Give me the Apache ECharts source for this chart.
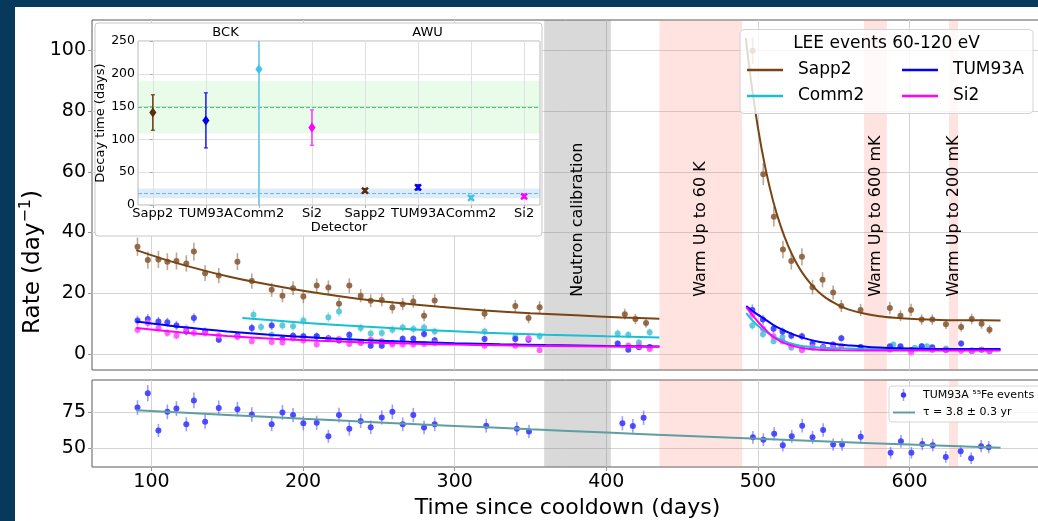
<!DOCTYPE html>
<html>
<head>
<meta charset="utf-8">
<script src="https://cdn.jsdelivr.net/npm/echarts@6/dist/echarts.min.js"></script>
<style>
  html, body { margin: 0; padding: 0; background: #fff; }
  #wrap { position: relative; width: 1038px; height: 521px; background: #fff; overflow: hidden; }
  .edge { position: absolute; background: #07395d; }
  #chart { position: absolute; left: 0; top: 0; width: 1038px; height: 521px; }
</style>
</head>
<body>
<div id="wrap">
  <div class="edge" style="left:0;top:0;width:1038px;height:7px"></div>
  <div class="edge" style="left:0;top:0;width:15px;height:521px"></div>
  <div id="chart"></div>
</div>
<script>
const FONT = 'DejaVu Sans';

// ---- axis ticks ----
const timeTicks = [100, 200, 300, 400, 500, 600];
const rateTicks = [0, 20, 40, 60, 80, 100];
const feTicks = [50, 75];
const detectorPos = [0, 1, 2, 3, 4, 5, 6, 7];
const detectorNames = ['Sapp2', 'TUM93A', 'Comm2', 'Si2', 'Sapp2', 'TUM93A', 'Comm2', 'Si2'];
const phaseNames = ['BCK', 'AWU'];
const phasePos = [1.37, 5.18];

// ---- shaded periods (days since cooldown) ----
const periodStart = [359, 435, 570, 626];
const periodEnd = [403, 489.6, 585, 632];
const periodLabels = ['Neutron calibration', 'Warm Up to 60 K', 'Warm Up to 600 mK', 'Warm Up to 200 mK'];
const periodKinds = ['calib', 'warm', 'warm', 'warm'];
const periodLabelRate = 18.8;

// ---- LEE event rates 60-120 eV: [day, rate, error] ----
const sapp2Pts = [
  [90.8,35.3,3.0],[97.6,30.9,2.8],[104.6,31.1,2.8],[110.5,30.4,2.8],[116.5,30.6,2.8],[123,29.8,2.7],
  [128,33.7,2.9],[135.4,26.6,2.6],[144.4,25.8,2.5],[156.7,30.4,2.8],[166.2,24.0,2.5],[179.3,21.1,2.3],
  [186.4,19.2,2.2],[193.4,21.6,2.3],[200.2,18.9,2.2],[209,22.5,2.4],[216.7,21.9,2.3],[223.7,16.5,2.0],
  [230.5,22.5,2.4],[238,19.2,2.2],[244.6,17.5,2.1],[251.9,17.8,2.1],[258.9,15.3,2.0],[265.7,16.4,2.0],
  [272.7,17.3,2.1],[279.8,12.6,1.8],[286.8,17.6,2.1],[319.7,13.2,1.8],[340,15.8,2.0],[348.7,11.8,1.7],
  [356,15.4,2.0],[412.2,13.1,1.8],[419.2,11.5,1.7],[426.2,10.2,1.6],
  [496.5,99.9,4.4],[503.5,59.2,3.6],[510.5,45.2,3.2],[516.5,34.4,2.9],[522,30.6,2.8],[529,32.0,2.8],
  [536,22.0,2.4],[542.6,24.4,2.5],[549.6,20.2,2.3],[555,15.8,2.0],[567.7,14.5,2.0],[587,15.1,2.0],
  [594,12.6,1.8],[601,14.5,2.0],[608,11.3,1.7],[615,11.3,1.7],[624,9.8,1.6],[634,8.9,1.5],
  [641,11.5,1.7],[647.5,9.9,1.6],[652.7,8.0,1.5]
];
const tumPts = [
  [90.8,11.0,1.6],[97.6,11.5,1.6],[104.6,10.7,1.5],[110.5,10.4,1.5],[116.5,9.4,1.5],[123,7.4,1.3],
  [128,11.8,1.6],[135.4,7.4,1.3],[144.4,4.7,1.1],[156.7,6.0,1.2],[166.2,8.5,1.4],[179.3,9.4,1.5],
  [186.4,4.9,1.1],[193.4,6.0,1.2],[200.2,5.8,1.2],[209,5.8,1.2],[216.7,5.2,1.1],[223.7,4.4,1.0],
  [230.5,6.3,1.2],[238,3.8,1.0],[244.6,2.7,0.9],[251.9,2.7,0.9],[258.9,3.6,1.0],[265.7,5.0,1.1],
  [272.7,5.0,1.1],[279.8,6.6,1.3],[286.8,4.5,1.1],[319.7,4.9,1.1],[340,4.9,1.1],[348.7,4.7,1.1],
  [407.5,3.4,1.0],[414.5,1.4,0.7],[421.5,2.2,0.8],[428.6,2.3,0.8],
  [496.3,14.5,1.8],[503.3,11.3,1.6],[510.3,8.3,1.4],[516.2,7.4,1.3],[522,6.0,1.2],[529,5.8,1.2],
  [536,3.4,1.0],[543,2.3,0.8],[549.6,3.1,0.9],[555,5.2,1.1],[567.7,2.3,0.8],[587,2.5,0.8],
  [594,2.5,0.8],[601,1.3,0.7],[608,2.5,0.8],[615,2.2,0.8],[624,1.3,0.7],[634,3.4,1.0],
  [641,1.0,0.6],[647.5,1.4,0.7],[652.7,0.9,0.6]
];
const commPts = [
  [167.3,12.9,1.7],[172.3,8.9,1.4],[179.3,6.3,1.2],[186.4,9.4,1.5],[193.4,9.1,1.5],[200.2,11.0,1.6],
  [209,5.8,1.2],[216.7,12.1,1.6],[223.7,14.0,1.7],[230.5,4.9,1.1],[238,8.5,1.4],[244.6,6.7,1.3],
  [251.9,6.9,1.3],[258.9,8.0,1.4],[265.7,8.7,1.4],[272.7,8.2,1.4],[279.8,8.7,1.4],[286.8,7.4,1.3],
  [319.7,7.4,1.3],[340,5.6,1.2],[356,5.8,1.2],[407.5,6.7,1.3],[414.5,6.3,1.2],[421.5,3.8,1.0],
  [428.6,7.1,1.3],
  [496.3,9.4,1.5],[503.3,6.5,1.3],[510.3,4.2,1.0],[516.2,5.6,1.2],[522,2.0,0.8],[529,1.5,0.7],
  [536,2.0,0.8],[589.3,3.1,0.9],[594,2.0,0.8],[603.5,2.0,0.8],[608,2.5,0.8],[611.5,2.5,0.8],
  [624,1.8,0.7],[641,1.2,0.6]
];
const siPts = [
  [90.8,8.0,1.4],[97.6,10.2,1.5],[104.6,8.5,1.4],[110.5,6.9,1.3],[116.5,6.0,1.2],[123,8.3,1.4],
  [128,6.9,1.3],[135.4,6.9,1.3],[144.4,6.0,1.2],[156.7,5.6,1.2],[166.2,4.2,1.0],[179.3,3.9,1.0],
  [186.4,3.8,1.0],[193.4,5.2,1.1],[200.2,4.4,1.0],[209,3.1,0.9],[216.7,4.9,1.1],[223.7,4.9,1.1],
  [230.5,3.3,0.9],[238,3.6,1.0],[244.6,4.7,1.1],[251.9,4.2,1.0],[258.9,3.1,0.9],[265.7,3.1,0.9],
  [272.7,3.1,0.9],[279.8,3.3,0.9],[286.8,3.6,1.0],[319.7,2.7,0.8],[340,2.7,0.8],[348.7,5.2,1.1],
  [356,1.2,0.6],[414.5,2.8,0.8],[421.5,2.6,0.8],[428.6,1.6,0.7],
  [496.3,13.0,1.7],[503.3,8.3,1.4],[510.3,5.8,1.2],[516.2,4.2,1.0],[522,2.7,0.8],[529,1.2,0.6],
  [536,2.3,0.8],[543,2.0,0.8],[549.6,2.3,0.8],[555,2.6,0.8],[587,1.4,0.7],[601,0.5,0.5],
  [615,1.3,0.6],[624,1.2,0.6],[634,1.0,0.6],[641,1.0,0.6],[647.5,1.4,0.7],[652.7,1.0,0.6]
];

// ---- fitted decay curves: [day, rate] ----
const sapp2FitBck = [[90,34.2],[110,30.9],[130,28.1],[150,25.6],[170,23.5],[200,20.8],[230,18.6],[260,16.9],[290,15.5],[320,14.3],[350,13.4],[380,12.7],[410,12.0],[435,11.6]];
const sapp2FitAwu = [[492,104],[495,91.6],[500,74.5],[505,61.0],[510,50.4],[515,42.1],[520,35.5],[525,30.3],[530,26.2],[535,23.0],[540,20.4],[545,18.4],[550,16.9],[555,15.6],[560,14.6],[570,13.3],[580,12.4],[590,11.9],[600,11.6],[620,11.2],[640,11.1],[660,11.0]];
const tumFitBck = [[90,10.7],[120,8.85],[150,7.39],[180,6.24],[210,5.32],[240,4.59],[270,4.01],[300,3.55],[330,3.20],[360,2.90],[400,2.61],[435,2.42]];
const tumFitAwu = [[492.3,15.8],[498,13.6],[504,11.6],[510,9.6],[516,8.0],[522,6.7],[528,5.6],[534,4.7],[540,4.0],[550,3.3],[560,2.8],[575,2.2],[600,1.8],[630,1.6],[660,1.6]];
const commFitBck = [[160,11.8],[200,10.3],[240,9.0],[280,7.9],[320,7.0],[360,6.3],[400,5.8],[435,5.4]];
const commFitAwu = [[492.3,13.4],[496,11.2],[500,9.3],[505,7.4],[510,5.8],[515,4.7],[520,3.7],[525,3.0],[530,2.5],[540,2.1],[550,1.9],[570,1.6],[600,1.5],[660,1.4]];
const siFitBck = [[90,8.5],[120,7.04],[150,5.89],[180,5.01],[210,4.33],[240,3.80],[270,3.39],[300,3.07],[330,2.83],[360,2.63],[400,2.44],[435,2.32]];
const siFitAwu = [[492.3,15.4],[496,13.0],[500,10.6],[504,8.5],[508,6.5],[512,5.0],[516,3.9],[520,3.1],[525,2.4],[530,1.9],[540,1.4],[555,1.2],[580,1.1],[660,1.1]];

// ---- TUM93A 55Fe calibration rate: [day, rate, error] ----
const fePts = [
  [90.8,77.9,5],[97.6,87.7,5.5],[104.6,62.3,4.5],[110.5,75,5],[116.5,77.2,5],[123,66.5,4.8],
  [128,82.8,5.3],[135.4,68.3,4.8],[144.4,77.7,5],[156.7,76.8,5],[166.2,73.2,5],[179.3,66.5,4.7],
  [186.4,74.6,5],[193.4,72.8,4.9],[200.2,67.2,4.8],[209,67.6,4.8],[216.7,58.3,4.4],[223.7,72.8,5],
  [230.5,63.4,4.6],[238,68.8,4.8],[244.6,64.5,4.7],[251.9,71.2,4.9],[258.9,75,5],[265.7,66.5,4.7],
  [272.7,72.8,4.9],[279.8,64.3,4.6],[286.8,66.5,4.7],[320.8,65.6,4.7],[341,63.4,4.6],[349,61.6,4.6],
  [410.6,67.2,4.8],[417.5,65.4,4.7],[424.6,71,4.9],[496.7,57.6,4.4],[503.6,56,4.4],[510.7,60,4.5],
  [516.4,52.2,4.2],[522.3,58.3,4.4],[529.2,65.6,4.7],[536,57.6,4.4],[543,62.7,4.6],[549.6,52.7,4.2],
  [555.5,52.7,4.2],[567.8,58,4.4],[587.5,47.1,4.0],[594.3,54.9,4.3],[601.2,47.1,4.0],[608.4,53.1,4.2],
  [615.3,52.2,4.2],[623.9,44.2,3.9],[633.7,48.2,4.0],[640.6,43.3,3.9],[647.2,51.6,4.2],[652.2,50.9,4.2]
];
const feFit = [[90,76.1],[150,72.9],[200,70.3],[250,67.8],[300,65.4],[350,63.1],[400,60.9],[450,58.7],[500,56.6],[550,54.6],[600,52.7],[660,50.5]];

// ---- decay times (days): [detector position, tau, error] ----
const decayBck = [[0,141,27],[1,129,42],[2,207,210],[3,118,27]];
const decayAwu = [[4,22,3],[5,27,4],[6,11,3],[7,13,2.5]];
const bckBand = [109, 189];
const bckMean = 149;
const awuBand = [10.5, 25];
const awuMean = 18;

// ---- styling ----
const COL = {
  sapp2: '#7a4515', sapp2Pt: '#8b5d3b', sapp2Bar: 'rgba(139,93,59,0.55)',
  tum: '#0000ff', tumPt: '#3c3cff', tumBar: 'rgba(60,60,255,0.5)',
  comm: '#17c0d4', commPt: '#52c6d8', commBar: 'rgba(82,198,216,0.55)',
  si: '#ff00ff', siPt: '#ff55ff', siBar: 'rgba(255,85,255,0.5)',
  fe: '#5f9ea0'
};
const detColors = ['#5a2d0c', '#0000ee', '#40c4ec', '#ff00ff'];
const detBarColors = ['#6b3a14', '#1a1aff', '#5bc8ea', '#ff33ff'];
const GRID_LINE = '#d4d4d4';

function errPoints(color, barColor, r) {
  return function (params, api) {
    const x = api.value(0), y = api.value(1), e = api.value(2);
    const c = api.coord([x, y]);
    const hi = api.coord([x, y + e]);
    const lo = api.coord([x, y - e]);
    return {
      type: 'group',
      children: [
        { type: 'line', shape: { x1: c[0], y1: hi[1], x2: c[0], y2: lo[1] }, style: { stroke: barColor, lineWidth: 1.6 } },
        { type: 'circle', shape: { cx: c[0], cy: c[1], r: r }, style: { fill: color, opacity: 0.9 } }
      ]
    };
  };
}

function pointSeries(name, data, color, barColor, g) {
  return {
    type: 'custom', name: name, xAxisIndex: g, yAxisIndex: g, data: data,
    dimensions: ['x', 'y', 'e'], encode: { x: 0, y: 1 },
    renderItem: errPoints(color, barColor, 3), z: 3, silent: true, animation: false
  };
}

function fitSeries(name, data, color, g, width) {
  return {
    type: 'line', name: name, xAxisIndex: g, yAxisIndex: g, data: data,
    showSymbol: false, symbol: 'none', smooth: 0.25, color: color,
    lineStyle: { color: color, width: width || 2 }, itemStyle: { color: color },
    z: 4, silent: true, animation: false, emphasis: { disabled: true }
  };
}

function gridLines(xs, ys, z) {
  return {
    silent: true, symbol: ['none', 'none'], animation: false, z: z,
    label: { show: false }, emphasis: { disabled: true },
    lineStyle: { color: GRID_LINE, width: 1, type: 'solid' },
    data: xs.map(v => ({ xAxis: v })).concat(ys.map(v => ({ yAxis: v })))
  };
}

function periodAreas(z) {
  return {
    silent: true, animation: false, z: z, label: { show: false }, emphasis: { disabled: true },
    data: periodStart.map((s, i) => [
      { xAxis: s, itemStyle: { color: periodKinds[i] === 'calib' ? 'rgba(128,128,128,0.3)' : 'rgba(250,128,114,0.22)' } },
      { xAxis: periodEnd[i] }
    ])
  };
}

function decayRender(shape) {
  return function (params, api) {
    const i = api.value(0), v = api.value(1), e = api.value(2);
    const col = detColors[i % 4];
    const bar = detBarColors[i % 4];
    const c = api.coord([i, v]);
    const hi = api.coord([i, v + e]);
    const lo = api.coord([i, v - e]);
    const kids = [
      { type: 'line', shape: { x1: c[0], y1: hi[1], x2: c[0], y2: lo[1] }, style: { stroke: bar, lineWidth: 1.5 } },
      { type: 'line', shape: { x1: c[0] - 2, y1: hi[1], x2: c[0] + 2, y2: hi[1] }, style: { stroke: bar, lineWidth: 1.2 } },
      { type: 'line', shape: { x1: c[0] - 2, y1: lo[1], x2: c[0] + 2, y2: lo[1] }, style: { stroke: bar, lineWidth: 1.2 } }
    ];
    if (shape === 'diamond') {
      kids.push({ type: 'polygon', shape: { points: [[c[0], c[1] - 5], [c[0] + 3.6, c[1]], [c[0], c[1] + 5], [c[0] - 3.6, c[1]]] }, style: { fill: col } });
    } else {
      kids.push({ type: 'line', shape: { x1: c[0] - 3, y1: c[1] - 3, x2: c[0] + 3, y2: c[1] + 3 }, style: { stroke: col, lineWidth: 2.4 } });
      kids.push({ type: 'line', shape: { x1: c[0] - 3, y1: c[1] + 3, x2: c[0] + 3, y2: c[1] - 3 }, style: { stroke: col, lineWidth: 2.4 } });
    }
    return { type: 'group', children: kids };
  };
}

const tickLabel = { fontFamily: FONT, color: '#000' };

const option = {
  backgroundColor: 'transparent',
  animation: false,
  textStyle: { fontFamily: FONT },
  grid: [
    { left: 92, top: 20, width: 951, height: 350, show: true, borderColor: '#5a5a5a', borderWidth: 1, backgroundColor: 'transparent', outerBoundsMode: 'none' },
    { left: 92, top: 380, width: 951, height: 87, show: true, borderColor: '#5a5a5a', borderWidth: 1, backgroundColor: 'transparent', outerBoundsMode: 'none' },
    { left: 138, top: 41, width: 402, height: 164, show: true, borderColor: '#b8b8b8', borderWidth: 1, backgroundColor: 'transparent', z: 11, outerBoundsMode: 'none' }
  ],
  xAxis: [
    { gridIndex: 0, type: 'value', min: 60.8, max: 688,
      axisLine: { show: false }, axisTick: { show: false }, axisLabel: { show: false }, splitLine: { show: false } },
    { gridIndex: 1, type: 'value', min: 60.8, max: 688,
      axisLine: { show: false },
      axisTick: { show: true, customValues: timeTicks, length: 4, lineStyle: { color: '#999' } },
      axisLabel: Object.assign({ customValues: timeTicks, fontSize: 19, margin: 6 }, tickLabel),
      splitLine: { show: false },
      name: 'Time since cooldown (days)', nameLocation: 'middle', nameGap: 30,
      nameTextStyle: { fontSize: 22, fontFamily: FONT, color: '#000' } },
    { gridIndex: 2, type: 'value', min: -0.28, max: 7.3, z: 11,
      axisLine: { show: false },
      axisTick: { show: true, customValues: detectorPos, length: 3, lineStyle: { color: '#aaa' } },
      axisLabel: Object.assign({ customValues: detectorPos, fontSize: 13, margin: 2,
        formatter: v => detectorNames[Math.round(v)] }, tickLabel),
      splitLine: { show: false },
      name: 'Detector', nameLocation: 'middle', nameGap: 15,
      nameTextStyle: { fontSize: 13, fontFamily: FONT, color: '#000' } },
    { gridIndex: 2, type: 'value', position: 'top', min: -0.28, max: 7.3, z: 11,
      axisLine: { show: false }, axisTick: { show: false }, splitLine: { show: false },
      axisLabel: Object.assign({ customValues: phasePos, fontSize: 13, margin: 2,
        formatter: v => { const k = phasePos.findIndex(p => Math.abs(p - v) < 0.01); return k >= 0 ? phaseNames[k] : ''; } }, tickLabel) }
  ],
  yAxis: [
    { gridIndex: 0, type: 'value', min: -5.3, max: 110,
      axisLine: { show: false },
      axisTick: { show: true, customValues: rateTicks, length: 4, lineStyle: { color: '#999' } },
      axisLabel: Object.assign({ customValues: rateTicks, fontSize: 19, margin: 6 }, tickLabel),
      splitLine: { show: false } },
    { gridIndex: 1, type: 'value', min: 37.4, max: 96.7,
      axisLine: { show: false },
      axisTick: { show: true, customValues: feTicks, length: 4, lineStyle: { color: '#999' } },
      axisLabel: Object.assign({ customValues: feTicks, fontSize: 19, margin: 6 }, tickLabel),
      splitLine: { show: false } },
    { gridIndex: 2, type: 'value', min: 0, max: 250, interval: 50, z: 11,
      axisLine: { show: false },
      axisTick: { show: true, length: 3, lineStyle: { color: '#aaa' } },
      axisLabel: Object.assign({ fontSize: 12.5, margin: 3 }, tickLabel),
      splitLine: { show: true, lineStyle: { color: '#e0e0e0', width: 1 } },
      name: 'Decay time (days)', nameLocation: 'middle', nameGap: 28,
      nameTextStyle: { fontSize: 13, fontFamily: FONT, color: '#000' } }
  ],
  legend: [
    { data: ['Sapp2', 'Comm2'], orient: 'vertical', left: 747, top: 60, padding: 0,
      itemWidth: 36, itemHeight: 2.5, itemGap: 6, icon: 'rect', selectedMode: false, z: 21,
      textStyle: { fontSize: 17, fontFamily: FONT, color: '#000', lineHeight: 20, padding: [0, 0, 0, 10] } },
    { data: ['TUM93A', 'Si2'], orient: 'vertical', left: 902, top: 60, padding: 0,
      itemWidth: 36, itemHeight: 2.5, itemGap: 6, icon: 'rect', selectedMode: false, z: 21,
      textStyle: { fontSize: 17, fontFamily: FONT, color: '#000', lineHeight: 20, padding: [0, 0, 0, 10] } }
  ],
  graphic: { elements: [
    { type: 'text', z: 5, x: 33, y: 262, rotation: Math.PI / 2, silent: true,
      style: { text: 'Rate (day{s|\u22121})', fontSize: 23, fontFamily: FONT, fill: '#000', align: 'center', verticalAlign: 'middle',
        lineHeight: 30, rich: { s: { fontSize: 16, fontFamily: FONT, fill: '#000', lineHeight: 30, verticalAlign: 'top' } } } },
    { type: 'rect', z: 10, silent: true, shape: { x: 95, y: 23, width: 447, height: 213, r: 3 },
      style: { fill: '#ffffff', stroke: '#c8c8c8', lineWidth: 1 } },
    { type: 'rect', z: 20, silent: true, shape: { x: 740, y: 29.5, width: 293, height: 84, r: 4 },
      style: { fill: 'rgba(255,255,255,0.8)', stroke: '#d4d4d4', lineWidth: 1 } },
    { type: 'text', z: 21, x: 886.5, y: 44, silent: true,
      style: { text: 'LEE events 60-120 eV', fontSize: 17, fontFamily: FONT, fill: '#000', align: 'center', verticalAlign: 'middle' } },
    { type: 'rect', z: 20, silent: true, shape: { x: 889, y: 386, width: 152, height: 36, r: 3 },
      style: { fill: 'rgba(255,255,255,0.8)', stroke: '#d4d4d4', lineWidth: 1 } },
    { type: 'line', z: 21, silent: true, shape: { x1: 903.5, y1: 389, x2: 903.5, y2: 401 },
      style: { stroke: COL.tumBar, lineWidth: 1.5 } },
    { type: 'circle', z: 21, silent: true, shape: { cx: 903.5, cy: 395, r: 2.7 }, style: { fill: COL.tumPt } },
    { type: 'line', z: 21, silent: true, shape: { x1: 893, y1: 412.5, x2: 915, y2: 412.5 },
      style: { stroke: COL.fe, lineWidth: 2 } },
    { type: 'text', z: 21, x: 923, y: 395, silent: true,
      style: { text: 'TUM93A \u2075\u2075Fe events', fontSize: 11, fontFamily: FONT, fill: '#000', align: 'left', verticalAlign: 'middle' } },
    { type: 'text', z: 21, x: 923, y: 412.5, silent: true,
      style: { text: '\u03C4 = 3.8 \u00B1 0.3 yr', fontSize: 11, fontFamily: FONT, fill: '#000', align: 'left', verticalAlign: 'middle' } }
  ] },
  series: [
    // main panel: grid lines and shaded periods
    { type: 'line', name: 'mainFrame', xAxisIndex: 0, yAxisIndex: 0, data: [], silent: true,
      markLine: gridLines(timeTicks, rateTicks, 1), markArea: periodAreas(2) },
    { type: 'custom', name: 'periodText', xAxisIndex: 0, yAxisIndex: 0, silent: true, z: 3,
      data: periodStart.map((s, i) => [(s + periodEnd[i]) / 2, periodLabelRate]),
      encode: { x: 0, y: 1 },
      renderItem: (params, api) => {
        const p = api.coord([api.value(0), api.value(1)]);
        return { type: 'text', x: p[0], y: p[1], rotation: Math.PI / 2,
          style: { text: periodLabels[params.dataIndex], fontSize: 16, fontFamily: FONT, fill: '#000', align: 'left', verticalAlign: 'middle' } };
      } },
    pointSeries('Sapp2 data', sapp2Pts, COL.sapp2Pt, COL.sapp2Bar, 0),
    pointSeries('Comm2 data', commPts, COL.commPt, COL.commBar, 0),
    pointSeries('TUM93A data', tumPts, COL.tumPt, COL.tumBar, 0),
    pointSeries('Si2 data', siPts, COL.siPt, COL.siBar, 0),
    fitSeries('Sapp2', sapp2FitBck, COL.sapp2, 0),
    fitSeries('Sapp2 AWU', sapp2FitAwu, COL.sapp2, 0),
    fitSeries('Comm2', commFitBck, COL.comm, 0),
    fitSeries('Comm2 AWU', commFitAwu, COL.comm, 0),
    fitSeries('TUM93A', tumFitBck, COL.tum, 0),
    fitSeries('TUM93A AWU', tumFitAwu, COL.tum, 0),
    fitSeries('Si2', siFitBck, COL.si, 0),
    fitSeries('Si2 AWU', siFitAwu, COL.si, 0),

    // lower panel: 55Fe rate
    { type: 'line', name: 'feFrame', xAxisIndex: 1, yAxisIndex: 1, data: [], silent: true,
      markLine: gridLines(timeTicks, feTicks, 1), markArea: periodAreas(2) },
    pointSeries('55Fe data', fePts, COL.tumPt, COL.tumBar, 1),
    fitSeries('55Fe fit', feFit, COL.fe, 1),

    // inset: decay times
    { type: 'line', name: 'insetFrame', xAxisIndex: 2, yAxisIndex: 2, data: [], silent: true,
      markArea: { silent: true, z: 11, label: { show: false }, emphasis: { disabled: true },
        data: [
          [{ yAxis: bckBand[0], itemStyle: { color: 'rgba(144,238,144,0.2)' } }, { yAxis: bckBand[1] }],
          [{ yAxis: awuBand[0], itemStyle: { color: 'rgba(120,180,235,0.25)' } }, { yAxis: awuBand[1] }]
        ] },
      markLine: { silent: true, symbol: ['none', 'none'], z: 12, label: { show: false }, emphasis: { disabled: true },
        lineStyle: { color: '#e0e0e0', width: 1, type: 'solid' },
        data: detectorPos.map(v => ({ xAxis: v })).concat([
          { yAxis: bckMean, lineStyle: { color: '#3ccf6e', type: 'dashed', width: 1 } },
          { yAxis: awuMean, lineStyle: { color: '#6fb6ef', type: 'dashed', width: 1 } }
        ]) } },
    { type: 'custom', name: 'BCK decay', xAxisIndex: 2, yAxisIndex: 2, data: decayBck, clip: true,
      dimensions: ['x', 'y', 'e'], encode: { x: 0, y: 1 }, renderItem: decayRender('diamond'), z: 13, silent: true },
    { type: 'custom', name: 'AWU decay', xAxisIndex: 2, yAxisIndex: 2, data: decayAwu, clip: true,
      dimensions: ['x', 'y', 'e'], encode: { x: 0, y: 1 }, renderItem: decayRender('x'), z: 13, silent: true }
  ]
};

const chart = echarts.init(document.getElementById('chart'), null, { renderer: 'canvas' });
chart.setOption(option);
</script>
</body>
</html>
